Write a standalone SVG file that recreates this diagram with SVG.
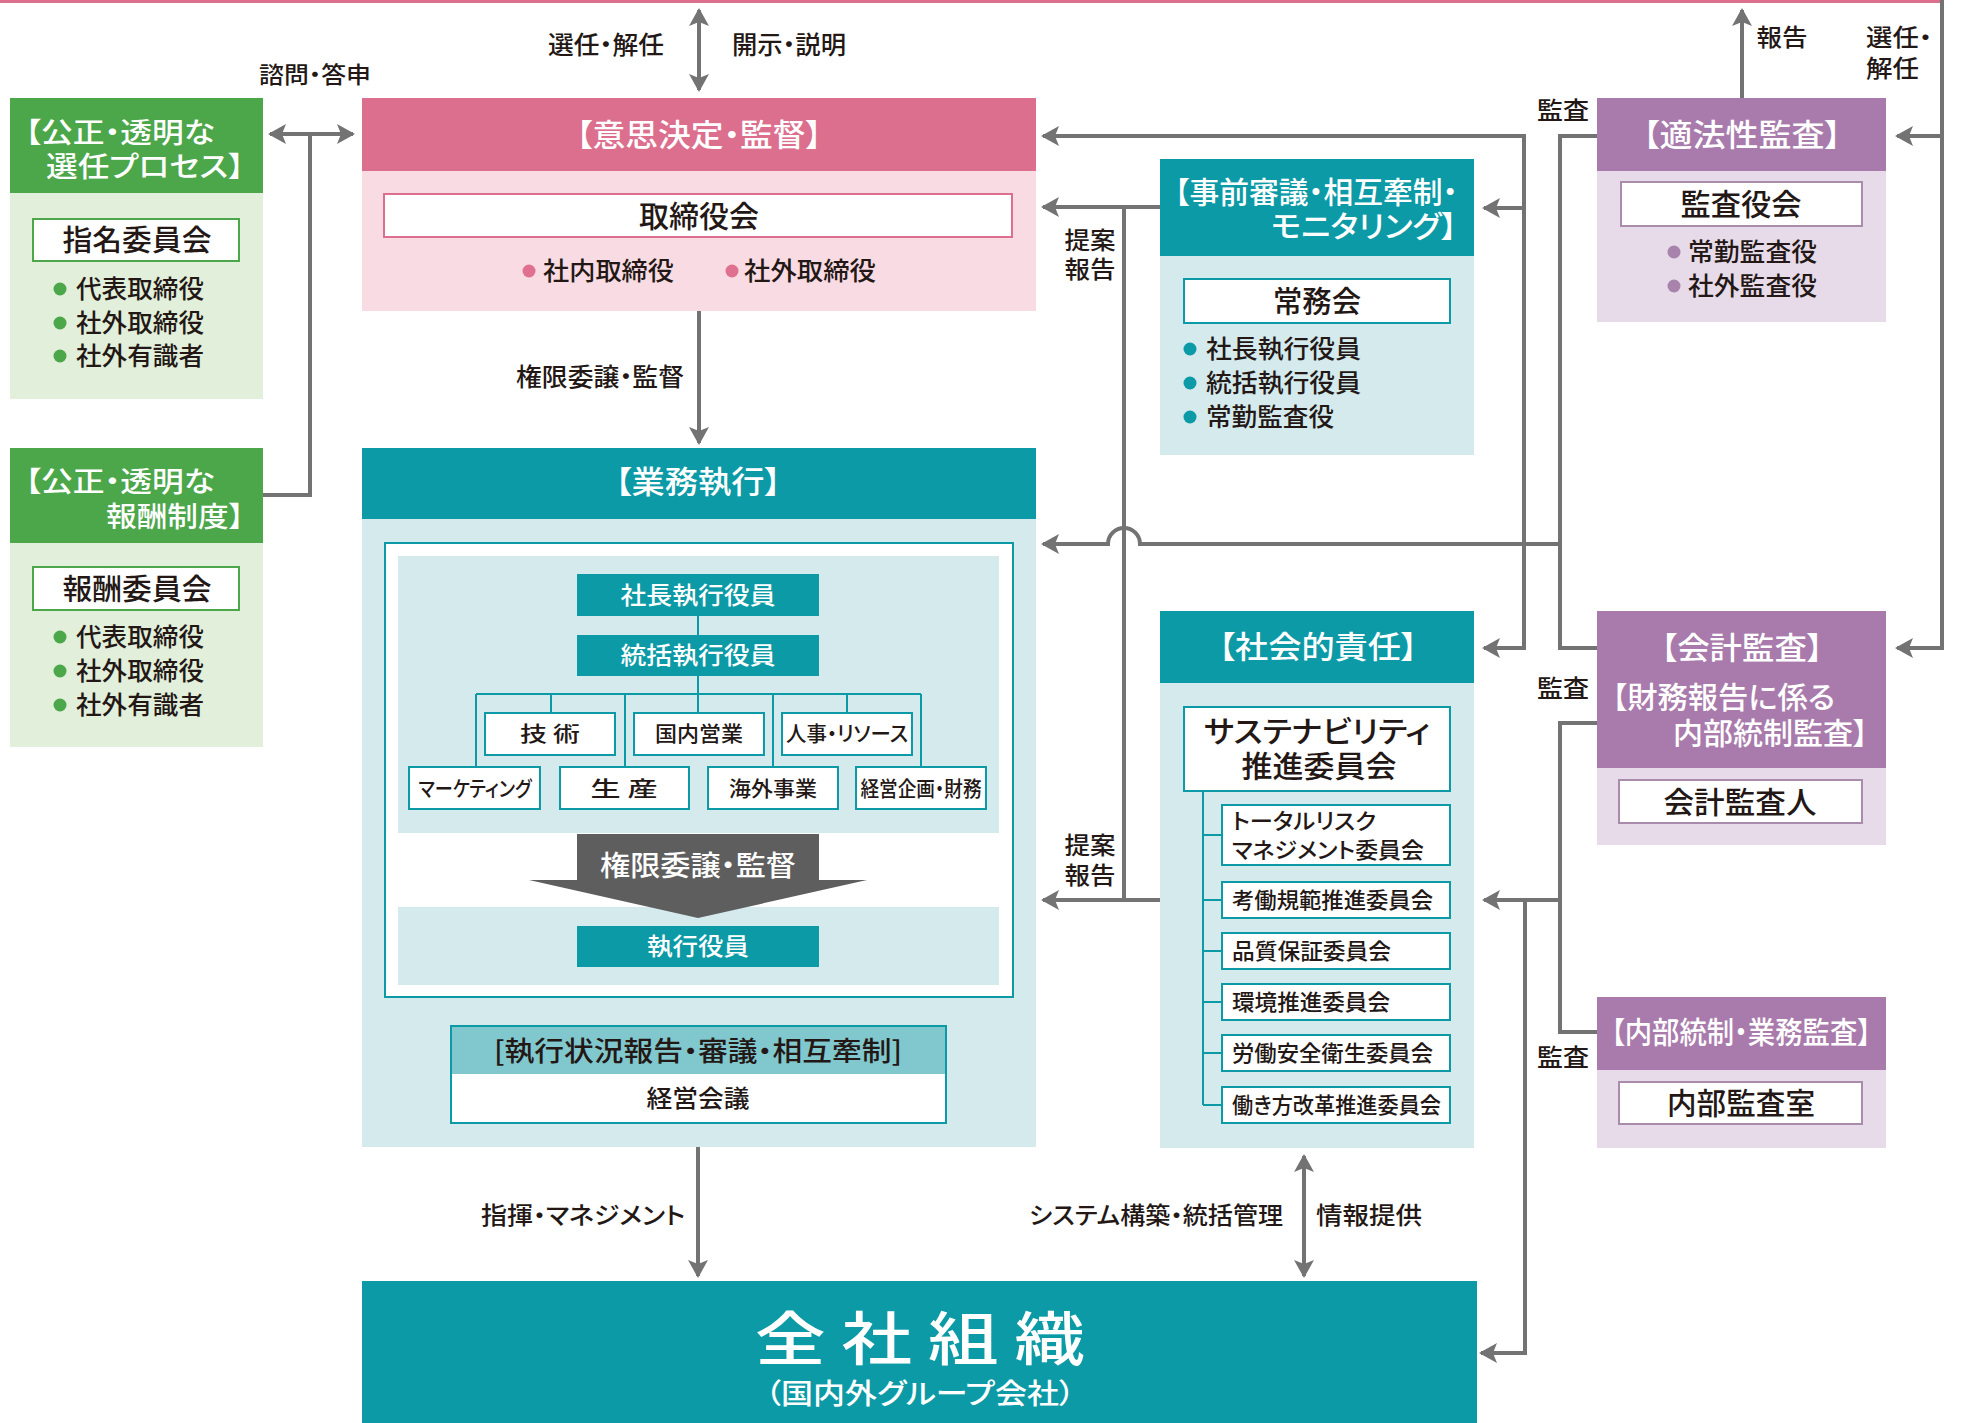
<svg xmlns="http://www.w3.org/2000/svg" width="1978" height="1423" viewBox="0 0 1978 1423">
<style>
text{font-family:"Noto Sans CJK JP","Noto Sans CJK SC",sans-serif;font-feature-settings:"palt";font-weight:500;fill:#231815}
.m{text-anchor:middle}
.w{fill:#fff}
.tb{fill:#fff;stroke:#0b9aa6;stroke-width:2}
.pb{fill:#fff;stroke:#dc6e8e;stroke-width:2}
.gb{fill:#fff;stroke:#4ca64a;stroke-width:2}
.vb{fill:#fff;stroke:#a98bab;stroke-width:2}
.teal{fill:#0b9aa6}
.lteal{fill:#d4eaed}
.pink{fill:#dc6e8e}
.lpink{fill:#f9dbe3}
.green{fill:#4ca64a}
.lgreen{fill:#e2efda}
.purple{fill:#a97bac}
.lpurple{fill:#e8dbe9}
.tl{stroke:#0b9aa6;stroke-width:2;fill:none}
</style>
<defs>
<marker id="ah" viewBox="0 0 18 20" refX="16" refY="10" markerWidth="18" markerHeight="20" markerUnits="userSpaceOnUse" orient="auto-start-reverse">
<path d="M0,0 L18,10 L0,20 L4,10 z" fill="#737373"/>
</marker>
</defs>
<rect x="0" y="0" width="1943" height="3" fill="#dc6e8e"/>

<g id="connectors" fill="none" stroke="#737373" stroke-width="4">
<path d="M699,90 L699,10" marker-start="url(#ah)" marker-end="url(#ah)"/>
<path d="M270,134 L353,134" marker-start="url(#ah)" marker-end="url(#ah)"/>
<path d="M310,134 L310,495 L263,495"/>
<path d="M699,311 L699,443" marker-end="url(#ah)"/>
<path d="M698,1147 L698,1276" marker-end="url(#ah)"/>
<path d="M1304,1156 L1304,1276" marker-start="url(#ah)" marker-end="url(#ah)"/>
<path d="M1160,207 L1043,207" marker-end="url(#ah)"/>
<path d="M1124,207 L1124,900"/>
<path d="M1160,900 L1043,900" marker-end="url(#ah)"/>
<path d="M1560,544 L1140,544 A16,16 0 0 0 1108,544 L1043,544" marker-end="url(#ah)"/>
<path d="M1043,136 L1524,136 L1524,648 L1484,648" marker-start="url(#ah)" marker-end="url(#ah)"/>
<path d="M1524,208 L1484,208" marker-end="url(#ah)"/>
<path d="M1597,136 L1560,136 L1560,648 L1597,648"/>
<path d="M1597,723 L1560,723 L1560,1032 L1597,1032"/>
<path d="M1560,900 L1484,900" marker-end="url(#ah)"/>
<path d="M1525,900 L1525,1353 L1481,1353" marker-end="url(#ah)"/>
<path d="M1942,0 L1942,648 L1897,648" marker-end="url(#ah)"/>
<path d="M1942,136 L1897,136" marker-end="url(#ah)"/>
<path d="M1742,98 L1742,10" marker-end="url(#ah)"/>
</g>

<g id="labels">
<text class="m" x="606" y="54" font-size="25" textLength="116" lengthAdjust="spacingAndGlyphs">選任・解任</text>
<text class="m" x="789" y="54" font-size="25" textLength="114" lengthAdjust="spacingAndGlyphs">開示・説明</text>
<text class="m" x="315" y="83" font-size="23" textLength="112" lengthAdjust="spacingAndGlyphs">諮問・答申</text>
<text class="m" x="600" y="386" font-size="25" textLength="168" lengthAdjust="spacingAndGlyphs">権限委譲・監督</text>
<text class="m" x="583" y="1224" font-size="24" textLength="204" lengthAdjust="spacingAndGlyphs">指揮・マネジメント</text>
<text class="m" x="1156" y="1224" font-size="24" textLength="254" lengthAdjust="spacingAndGlyphs">システム構築・統括管理</text>
<text class="m" x="1369" y="1224" font-size="24" textLength="106" lengthAdjust="spacingAndGlyphs">情報提供</text>
<text class="m" x="1090" y="249" font-size="24" textLength="51" lengthAdjust="spacingAndGlyphs">提案</text>
<text class="m" x="1090" y="278" font-size="24" textLength="51" lengthAdjust="spacingAndGlyphs">報告</text>
<text class="m" x="1090" y="854" font-size="24" textLength="51" lengthAdjust="spacingAndGlyphs">提案</text>
<text class="m" x="1090" y="884" font-size="24" textLength="51" lengthAdjust="spacingAndGlyphs">報告</text>
<text class="m" x="1782" y="46" font-size="24" textLength="51" lengthAdjust="spacingAndGlyphs">報告</text>
<text x="1866" y="46" font-size="24" textLength="66" lengthAdjust="spacingAndGlyphs">選任・</text>
<text x="1866" y="77" font-size="24" textLength="53" lengthAdjust="spacingAndGlyphs">解任</text>
<text class="m" x="1563" y="119" font-size="24" textLength="52" lengthAdjust="spacingAndGlyphs">監査</text>
<text class="m" x="1563" y="697" font-size="24" textLength="52" lengthAdjust="spacingAndGlyphs">監査</text>
<text class="m" x="1563" y="1066" font-size="24" textLength="52" lengthAdjust="spacingAndGlyphs">監査</text>
</g>

<g id="node-senin">
<rect class="lgreen" x="10" y="98" width="253" height="301"/>
<rect class="green" x="10" y="98" width="253" height="95"/>
<text class="w" x="25" y="143" font-size="28" textLength="190" lengthAdjust="spacingAndGlyphs">【公正・透明な</text>
<text class="w" x="46" y="177" font-size="28" textLength="198" lengthAdjust="spacingAndGlyphs">選任プロセス】</text>
<rect class="gb" x="33" y="219" width="206" height="42"/>
<text class="m" x="137" y="251" font-size="29" textLength="149" lengthAdjust="spacingAndGlyphs">指名委員会</text>
<g fill="#4ca64a"><circle cx="60" cy="289" r="6.5"/><circle cx="60" cy="323" r="6.5"/><circle cx="60" cy="356" r="6.5"/></g>
<text x="76" y="298" font-size="25" textLength="128" lengthAdjust="spacingAndGlyphs">代表取締役</text>
<text x="76" y="332" font-size="25" textLength="128" lengthAdjust="spacingAndGlyphs">社外取締役</text>
<text x="76" y="365" font-size="25" textLength="128" lengthAdjust="spacingAndGlyphs">社外有識者</text>
</g>

<g id="node-hoshu">
<rect class="lgreen" x="10" y="448" width="253" height="299"/>
<rect class="green" x="10" y="448" width="253" height="95"/>
<text class="w" x="25" y="492" font-size="28" textLength="190" lengthAdjust="spacingAndGlyphs">【公正・透明な</text>
<text class="w" x="106" y="527" font-size="28" textLength="138" lengthAdjust="spacingAndGlyphs">報酬制度】</text>
<rect class="gb" x="33" y="567" width="206" height="43"/>
<text class="m" x="137" y="600" font-size="29" textLength="149" lengthAdjust="spacingAndGlyphs">報酬委員会</text>
<g fill="#4ca64a"><circle cx="60" cy="637" r="6.5"/><circle cx="60" cy="671" r="6.5"/><circle cx="60" cy="705" r="6.5"/></g>
<text x="76" y="646" font-size="25" textLength="128" lengthAdjust="spacingAndGlyphs">代表取締役</text>
<text x="76" y="680" font-size="25" textLength="128" lengthAdjust="spacingAndGlyphs">社外取締役</text>
<text x="76" y="714" font-size="25" textLength="128" lengthAdjust="spacingAndGlyphs">社外有識者</text>
</g>

<g id="node-ishikettei">
<rect class="lpink" x="362" y="98" width="674" height="213"/>
<rect class="pink" x="362" y="98" width="674" height="73"/>
<text class="m w" x="699" y="146" font-size="31" textLength="246" lengthAdjust="spacingAndGlyphs">【意思決定・監督】</text>
<rect class="pb" x="384" y="194" width="628" height="43"/>
<text class="m" x="699" y="227" font-size="30" textLength="120" lengthAdjust="spacingAndGlyphs">取締役会</text>
<g fill="#e0708f"><circle cx="529" cy="271" r="6.5"/><circle cx="732" cy="271" r="6.5"/></g>
<text x="543" y="280" font-size="25" textLength="131" lengthAdjust="spacingAndGlyphs">社内取締役</text>
<text x="744" y="280" font-size="25" textLength="132" lengthAdjust="spacingAndGlyphs">社外取締役</text>
</g>

<g id="node-gyomu">
<rect class="lteal" x="362" y="448" width="674" height="699"/>
<rect class="teal" x="362" y="448" width="674" height="71"/>
<text class="m w" x="698" y="493" font-size="31" textLength="166" lengthAdjust="spacingAndGlyphs">【業務執行】</text>
<rect class="tb" x="385" y="543" width="628" height="454"/>
<rect class="lteal" x="398" y="556" width="601" height="277"/>
<rect class="lteal" x="398" y="907" width="601" height="78"/>
<rect class="teal" x="577" y="574" width="242" height="42"/>
<text class="m w" x="698" y="604" font-size="24" textLength="155" lengthAdjust="spacingAndGlyphs">社長執行役員</text>
<rect class="teal" x="577" y="635" width="242" height="41"/>
<text class="m w" x="698" y="664" font-size="24" textLength="155" lengthAdjust="spacingAndGlyphs">統括執行役員</text>
<path class="tl" d="M698,616 V635 M698,676 V694 M476,694 H921 M476,694 V767 M551,694 V713 M625,694 V767 M698,694 V713 M773,694 V767 M847,694 V713 M921,694 V767"/>
<rect class="tb" x="485" y="713" width="130" height="42"/>
<rect class="tb" x="634" y="713" width="130" height="42"/>
<rect class="tb" x="782" y="713" width="130" height="42"/>
<rect class="tb" x="409" y="767" width="131" height="42"/>
<rect class="tb" x="560" y="767" width="129" height="42"/>
<rect class="tb" x="708" y="767" width="130" height="42"/>
<rect class="tb" x="856" y="767" width="130" height="42"/>
<text class="m" x="550" y="741" font-size="21" textLength="60" lengthAdjust="spacingAndGlyphs">技 術</text>
<text class="m" x="699" y="741" font-size="21" textLength="88" lengthAdjust="spacingAndGlyphs">国内営業</text>
<text class="m" x="847" y="741" font-size="21" textLength="122" lengthAdjust="spacingAndGlyphs">人事・リソース</text>
<text class="m" x="475" y="796" font-size="21" textLength="113" lengthAdjust="spacingAndGlyphs">マーケティング</text>
<text class="m" x="624" y="796" font-size="21" textLength="67" lengthAdjust="spacingAndGlyphs">生 産</text>
<text class="m" x="773" y="796" font-size="21" textLength="88" lengthAdjust="spacingAndGlyphs">海外事業</text>
<text class="m" x="921" y="796" font-size="21" textLength="121" lengthAdjust="spacingAndGlyphs">経営企画・財務</text>
<polygon points="577,834 819,834 819,880 867,880 698,918 529,880 577,880" fill="#5e5e5e"/>
<text class="m w" x="698" y="876" font-size="28" textLength="196" lengthAdjust="spacingAndGlyphs">権限委譲・監督</text>
<rect class="teal" x="577" y="926" width="242" height="41"/>
<text class="m w" x="698" y="955" font-size="24" textLength="102" lengthAdjust="spacingAndGlyphs">執行役員</text>
<rect x="451" y="1026" width="495" height="97" fill="#fff" stroke="#0b9aa6" stroke-width="2"/>
<rect x="452" y="1027" width="493" height="47" fill="#80c8cd"/>
<text class="m" x="698" y="1061" font-size="27" textLength="408" lengthAdjust="spacingAndGlyphs">[執行状況報告・審議・相互牽制]</text>
<text class="m" x="698" y="1107" font-size="24" textLength="103" lengthAdjust="spacingAndGlyphs">経営会議</text>
</g>

<g id="node-jizen">
<rect class="lteal" x="1160" y="159" width="314" height="296"/>
<rect class="teal" x="1160" y="159" width="314" height="97"/>
<text class="m w" x="1316" y="203" font-size="30" textLength="283" lengthAdjust="spacingAndGlyphs">【事前審議・相互牽制・</text>
<text class="m w" x="1364" y="237" font-size="30" textLength="186" lengthAdjust="spacingAndGlyphs">モニタリング】</text>
<rect class="tb" x="1184" y="279" width="266" height="44"/>
<text class="m" x="1317" y="312" font-size="30" textLength="88" lengthAdjust="spacingAndGlyphs">常務会</text>
<g fill="#0b9aa6"><circle cx="1190" cy="349" r="6.5"/><circle cx="1190" cy="383" r="6.5"/><circle cx="1190" cy="417" r="6.5"/></g>
<text x="1206" y="358" font-size="25" textLength="155" lengthAdjust="spacingAndGlyphs">社長執行役員</text>
<text x="1206" y="392" font-size="25" textLength="155" lengthAdjust="spacingAndGlyphs">統括執行役員</text>
<text x="1206" y="426" font-size="25" textLength="128" lengthAdjust="spacingAndGlyphs">常勤監査役</text>
</g>

<g id="node-shakai">
<rect class="lteal" x="1160" y="611" width="314" height="537"/>
<rect class="teal" x="1160" y="611" width="314" height="72"/>
<text class="m w" x="1318" y="658" font-size="31" textLength="199" lengthAdjust="spacingAndGlyphs">【社会的責任】</text>
<rect class="tb" x="1184" y="707" width="266" height="84"/>
<text class="m" x="1317" y="742" font-size="30" textLength="226" lengthAdjust="spacingAndGlyphs">サステナビリティ</text>
<text class="m" x="1319" y="777" font-size="30" textLength="155" lengthAdjust="spacingAndGlyphs">推進委員会</text>
<path class="tl" d="M1203,791 V1105 M1203,835 H1222 M1203,900 H1222 M1203,951 H1222 M1203,1002 H1222 M1203,1053 H1222 M1203,1105 H1222"/>
<rect class="tb" x="1222" y="805" width="228" height="60"/>
<rect class="tb" x="1222" y="882" width="228" height="36"/>
<rect class="tb" x="1222" y="933" width="228" height="36"/>
<rect class="tb" x="1222" y="984" width="228" height="36"/>
<rect class="tb" x="1222" y="1035" width="228" height="36"/>
<rect class="tb" x="1222" y="1087" width="228" height="36"/>
<text x="1232" y="829" font-size="22" textLength="144" lengthAdjust="spacingAndGlyphs">トータルリスク</text>
<text x="1232" y="858" font-size="22" textLength="192" lengthAdjust="spacingAndGlyphs">マネジメント委員会</text>
<text x="1232" y="908" font-size="22" textLength="201" lengthAdjust="spacingAndGlyphs">考働規範推進委員会</text>
<text x="1232" y="959" font-size="22" textLength="159" lengthAdjust="spacingAndGlyphs">品質保証委員会</text>
<text x="1232" y="1010" font-size="22" textLength="158" lengthAdjust="spacingAndGlyphs">環境推進委員会</text>
<text x="1232" y="1061" font-size="22" textLength="201" lengthAdjust="spacingAndGlyphs">労働安全衛生委員会</text>
<text x="1232" y="1113" font-size="22" textLength="209" lengthAdjust="spacingAndGlyphs">働き方改革推進委員会</text>
</g>

<g id="node-tekiho">
<rect class="lpurple" x="1597" y="98" width="289" height="224"/>
<rect class="purple" x="1597" y="98" width="289" height="73"/>
<text class="m w" x="1742" y="146" font-size="31" textLength="198" lengthAdjust="spacingAndGlyphs">【適法性監査】</text>
<rect class="vb" x="1621" y="182" width="241" height="44"/>
<text class="m" x="1741" y="215" font-size="30" textLength="121" lengthAdjust="spacingAndGlyphs">監査役会</text>
<g fill="#a883ac"><circle cx="1674" cy="252" r="6.5"/><circle cx="1674" cy="286" r="6.5"/></g>
<text x="1688" y="261" font-size="25" textLength="129" lengthAdjust="spacingAndGlyphs">常勤監査役</text>
<text x="1688" y="295" font-size="25" textLength="129" lengthAdjust="spacingAndGlyphs">社外監査役</text>
</g>

<g id="node-kaikei">
<rect class="lpurple" x="1597" y="611" width="289" height="234"/>
<rect class="purple" x="1597" y="611" width="289" height="157"/>
<text class="m w" x="1742" y="659" font-size="31" textLength="162" lengthAdjust="spacingAndGlyphs">【会計監査】</text>
<text class="w" x="1612" y="708" font-size="30" textLength="223" lengthAdjust="spacingAndGlyphs">【財務報告に係る</text>
<text class="w" x="1673" y="744" font-size="30" textLength="195" lengthAdjust="spacingAndGlyphs">内部統制監査】</text>
<rect class="vb" x="1619" y="780" width="243" height="43"/>
<text class="m" x="1740" y="813" font-size="30" textLength="153" lengthAdjust="spacingAndGlyphs">会計監査人</text>
</g>

<g id="node-naibu">
<rect class="lpurple" x="1597" y="997" width="289" height="151"/>
<rect class="purple" x="1597" y="997" width="289" height="73"/>
<text class="m w" x="1741" y="1043" font-size="30" textLength="260" lengthAdjust="spacingAndGlyphs">【内部統制・業務監査】</text>
<rect class="vb" x="1619" y="1082" width="243" height="42"/>
<text class="m" x="1741" y="1114" font-size="30" textLength="148" lengthAdjust="spacingAndGlyphs">内部監査室</text>
</g>

<g id="node-zensha">
<rect class="teal" x="362" y="1281" width="1115" height="142"/>
<text class="m w" x="920" y="1360" font-size="58" font-weight="700" textLength="330" lengthAdjust="spacingAndGlyphs">全 社 組 織</text>
<text class="m w" x="920" y="1404" font-size="28" textLength="310" lengthAdjust="spacingAndGlyphs">（国内外グループ会社）</text>
</g>
</svg>
